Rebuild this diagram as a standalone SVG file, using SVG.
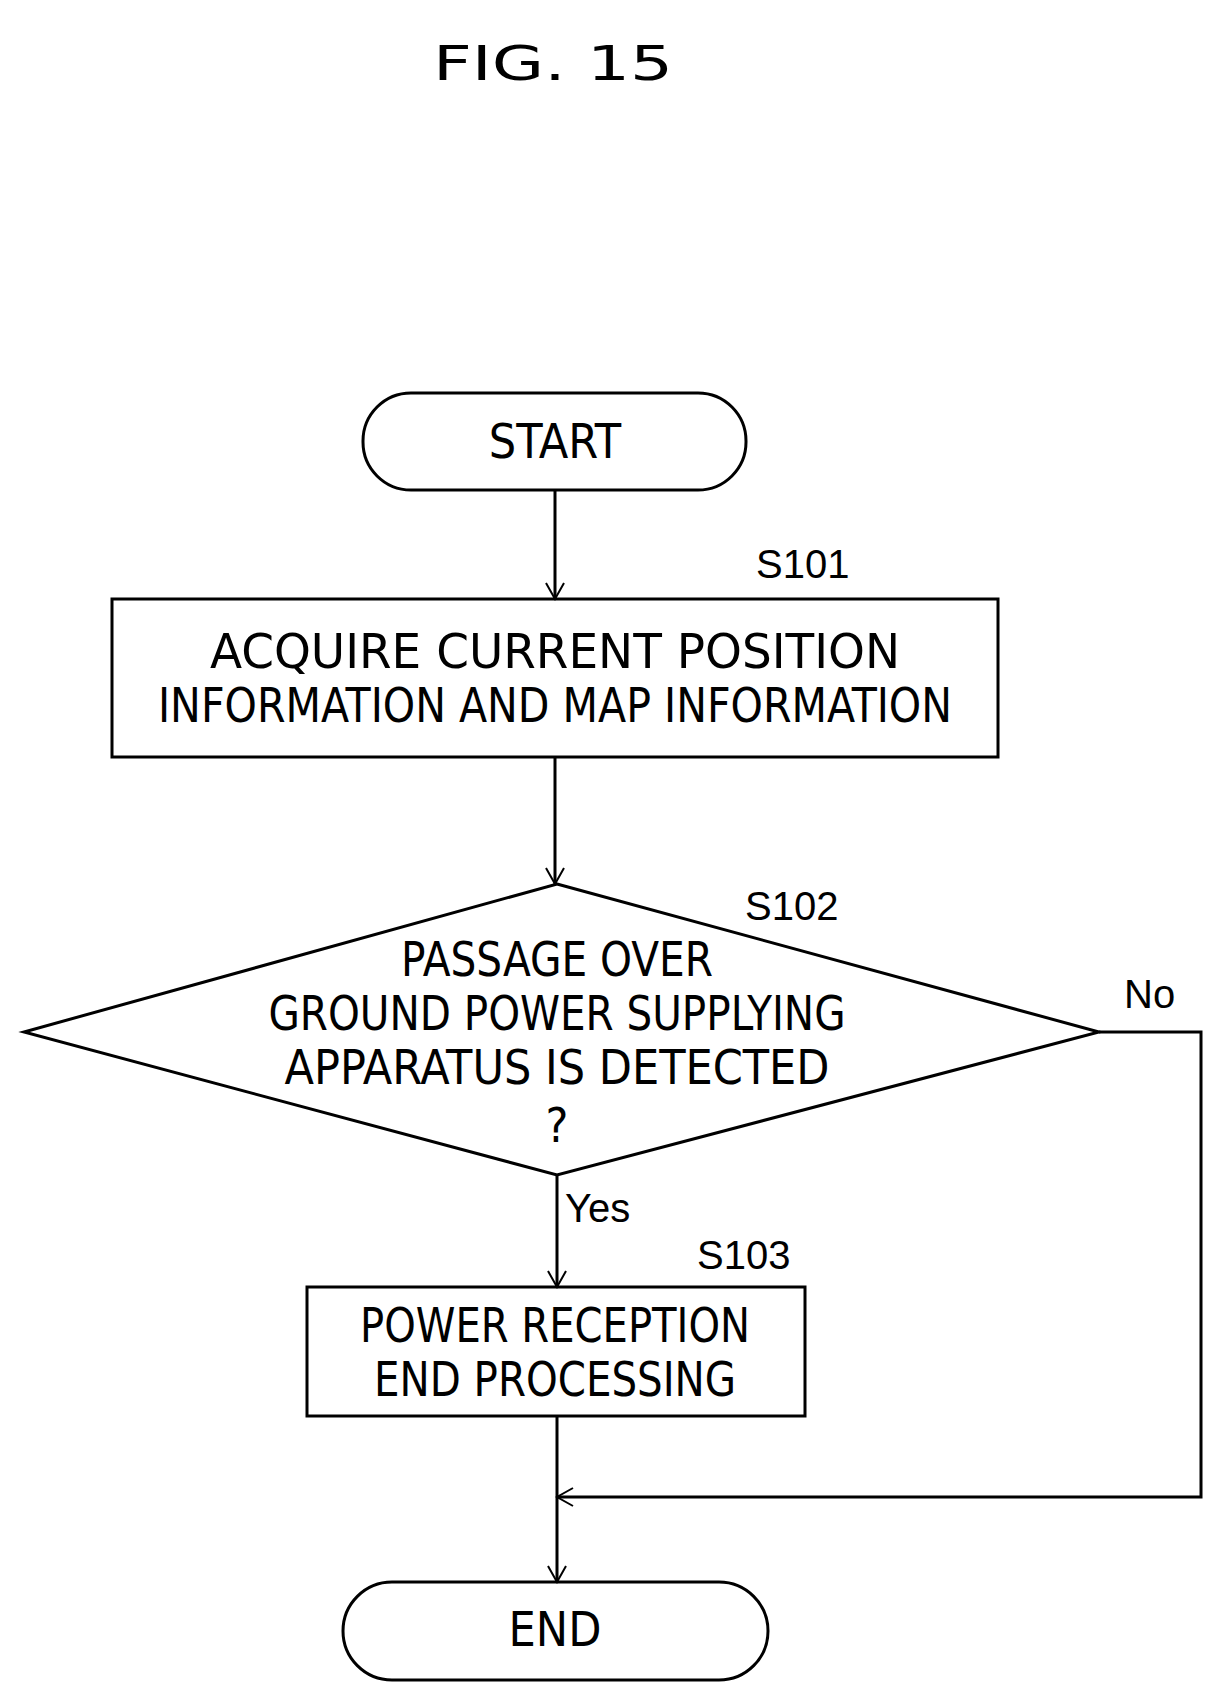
<svg xmlns="http://www.w3.org/2000/svg" width="1226" height="1705" viewBox="0 0 1226 1705">
<style>
.s{fill:none;stroke:#000;stroke-width:3}
.t{font-family:"DejaVu Sans Condensed","Liberation Sans",sans-serif;font-size:48px;text-anchor:middle;fill:#000}
.l{font-family:"Liberation Sans",sans-serif;font-size:40px;fill:#000}
</style>
<defs><marker id="b" markerWidth="20" markerHeight="20" refX="18" refY="10" orient="auto" markerUnits="userSpaceOnUse"><path d="M2,1 L18,10 L2,19" fill="none" stroke="#000" stroke-width="2"/></marker></defs>
<text x="553" y="80" class="t" font-size="76" textLength="240" lengthAdjust="spacingAndGlyphs">FIG. 15</text>
<g id="start"><rect x="363" y="393" width="383" height="97" rx="48" class="s"/><text x="555" y="458" class="t" font-size="44">START</text></g>
<g id="s101"><rect x="112" y="599" width="886" height="158" class="s"/><text x="756" y="578" class="l">S101</text>
<text x="555" y="668" class="t" textLength="690" lengthAdjust="spacingAndGlyphs">ACQUIRE CURRENT POSITION</text>
<text x="555" y="722" class="t" textLength="794" lengthAdjust="spacingAndGlyphs">INFORMATION AND MAP INFORMATION</text></g>
<g id="s102"><polygon points="557,884 1099,1032 557,1175 24,1032" class="s"/><text x="745" y="920" class="l">S102</text>
<text x="557" y="976" class="t" textLength="312" lengthAdjust="spacingAndGlyphs">PASSAGE OVER</text>
<text x="557" y="1030" class="t" textLength="577" lengthAdjust="spacingAndGlyphs">GROUND POWER SUPPLYING</text>
<text x="557" y="1084" class="t" textLength="545" lengthAdjust="spacingAndGlyphs">APPARATUS IS DETECTED</text>
<text x="557" y="1142" class="t">?</text></g>
<g id="s103"><rect x="307" y="1287" width="498" height="129" class="s"/><text x="697" y="1269" class="l">S103</text>
<text x="555" y="1342" class="t" textLength="390" lengthAdjust="spacingAndGlyphs">POWER RECEPTION</text>
<text x="555" y="1396" class="t" textLength="362" lengthAdjust="spacingAndGlyphs">END PROCESSING</text></g>
<g id="end"><rect x="343" y="1582" width="425" height="98" rx="49" class="s"/><text x="555" y="1646" class="t" font-size="44">END</text></g>
<g id="connectors" class="s" stroke-width="2">
<path d="M555,490 V599" marker-end="url(#b)"/>
<path d="M555,757 V884" marker-end="url(#b)"/>
<path d="M557,1175 V1287" marker-end="url(#b)"/>
<path d="M557,1416 V1582" marker-end="url(#b)"/>
<path d="M1099,1032 H1201 V1497 H557" marker-end="url(#b)"/>
</g>
<text x="565" y="1222" class="l">Yes</text>
<text x="1124" y="1008" class="l">No</text>
</svg>
